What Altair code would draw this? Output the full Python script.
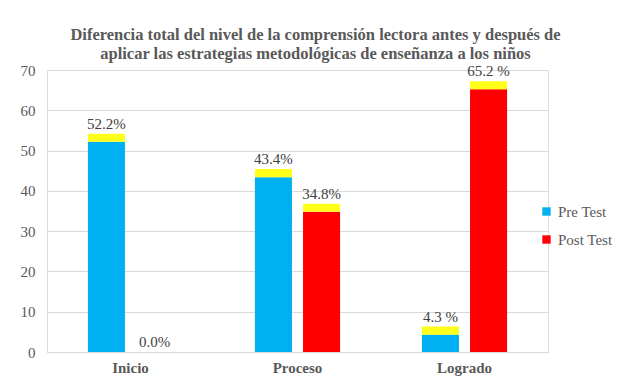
import altair as alt
import pandas as pd

categories = ["Inicio", "Proceso", "Logrado"]
series_names = ["Pre Test", "Post Test"]
pre_values = [52.2, 43.4, 4.3]
post_values = [0.0, 34.8, 65.2]
pre_labels = ["52.2%", "43.4%", "4.3 %"]
post_labels = ["0.0%", "34.8%", "65.2 %"]
y_ticks = [0, 10, 20, 30, 40, 50, 60, 70]

rows = []
for i, c in enumerate(categories):
    rows.append({"cat": c, "serie": series_names[0], "value": pre_values[i], "label": pre_labels[i]})
    rows.append({"cat": c, "serie": series_names[1], "value": post_values[i], "label": post_labels[i]})
df = pd.DataFrame(rows)

FONT = "Liberation Serif"
GRAY = "#595959"

base = alt.Chart(df).transform_calculate(
    top="datum.value + (datum.value > 0 ? 2 : 0)",
).encode(
    x=alt.X("cat:N", sort=categories, title=None,
            scale=alt.Scale(paddingInner=0.49, paddingOuter=0.245),
            axis=alt.Axis(labelAngle=0, labelFont=FONT, labelFontSize=15, labelFontWeight="bold",
                          labelColor=GRAY, ticks=False, domainColor="#D9D9D9", labelPadding=8)),
    xOffset=alt.XOffset("serie:N", sort=series_names, scale=alt.Scale(paddingInner=0.23)),
)

yscale = alt.Scale(domain=[0, 70])

bars = base.mark_bar().encode(
    y=alt.Y("value:Q", scale=yscale, title=None,
            axis=alt.Axis(values=y_ticks, labelFont=FONT, labelFontSize=15,
                          labelColor=GRAY,
                          ticks=False, domain=False, gridColor="#D9D9D9", labelPadding=12)),
    color=alt.Color("serie:N", sort=series_names,
                    scale=alt.Scale(domain=series_names, range=["#00B0F0", "#FF0000"]),
                    legend=alt.Legend(title=None, orient="none", legendX=492, legendY=134,
                                      symbolType="square", symbolSize=70, symbolStrokeWidth=0,
                                      labelFont=FONT, labelFontSize=15, labelColor=GRAY,
                                      rowPadding=12, labelOffset=4)),
)

caps = base.mark_bar(color="#FFFF00", opacity=0.9).encode(
    y=alt.Y("value:Q", scale=yscale),
    y2="top:Q",
).transform_filter("datum.value > 0")

texts = base.mark_text(font=FONT, fontSize=15, color="#404040",
                       baseline="bottom", dy=-2).encode(
    y=alt.Y("top:Q", scale=yscale),
    text="label:N",
)

chart = alt.layer(bars, caps, texts).properties(
    width=501, height=282,
    autosize=alt.AutoSizeParams(type="none"),
    padding={"left": 47, "top": 70, "right": 85, "bottom": 28},
    background="white",
    title=alt.Title(["Diferencia total del nivel de la comprensión lectora antes y después de",
                     "aplicar las estrategias metodológicas de enseñanza a los niños"],
                    font=FONT, fontSize=16.5, fontWeight="bold", color=GRAY, anchor="middle",
                    dx=18, offset=1, lineHeight=18.5),
).configure_view(stroke=None).configure(font=FONT)

chart.save("out.html", embed_options={"renderer": "svg", "actions": False})
